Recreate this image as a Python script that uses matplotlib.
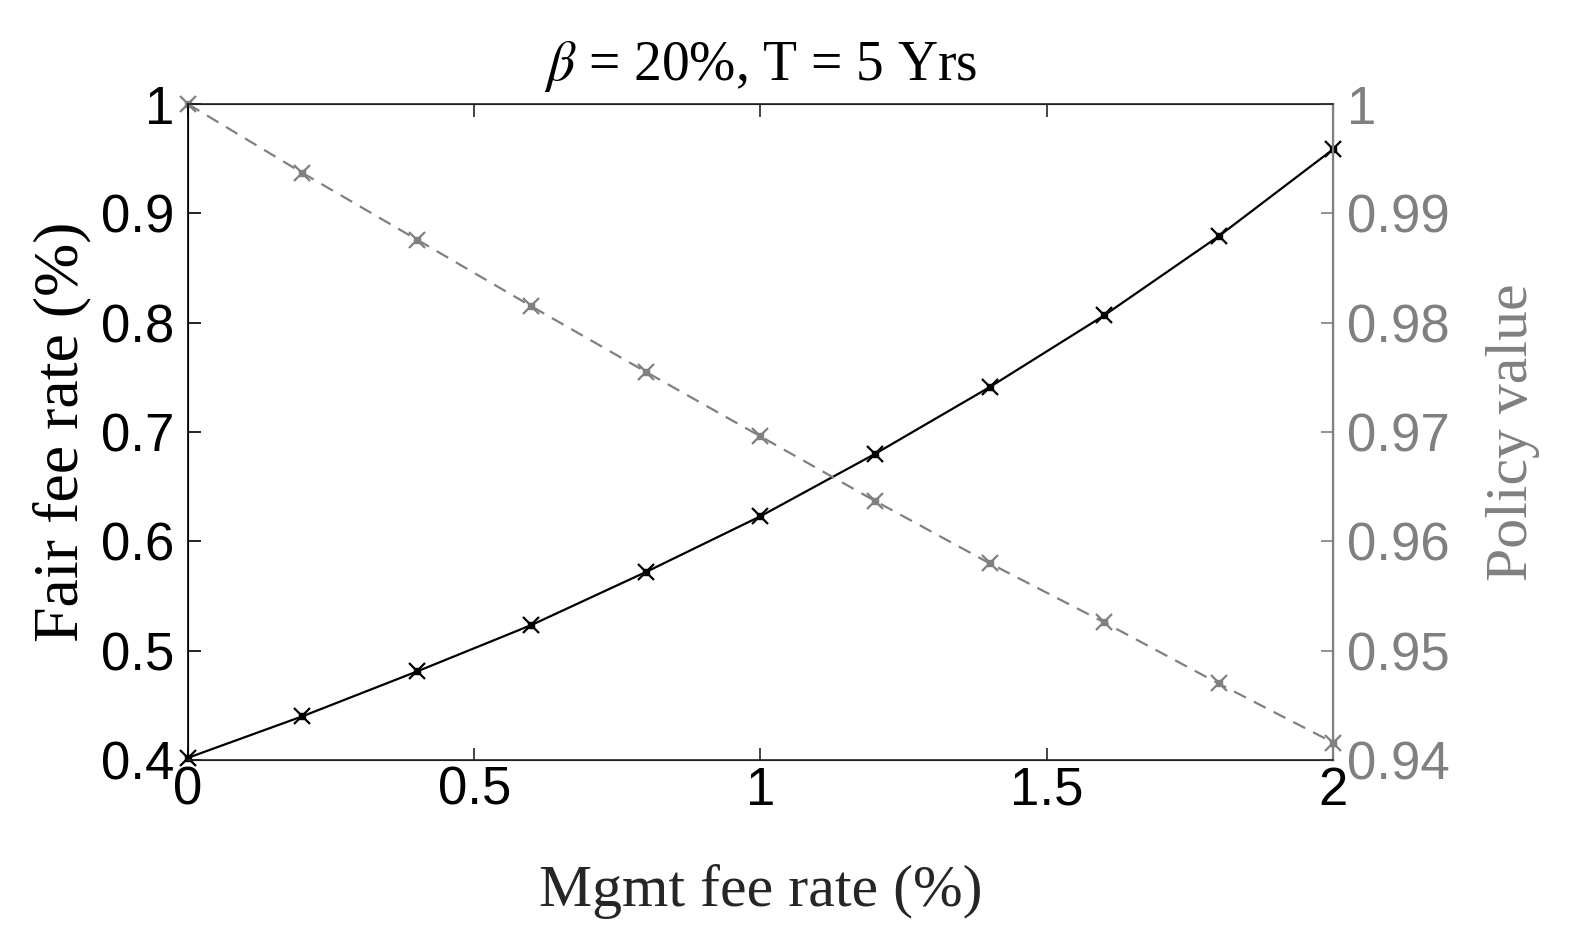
import matplotlib.pyplot as plt
import numpy as np

plt.rcParams['mathtext.fontset'] = 'stix'

# datos
mgmt_fee = [0.0, 0.2, 0.4, 0.6, 0.8, 1.0, 1.2, 1.4, 1.6, 1.8, 2.0]
fair_fee = [0.402, 0.440, 0.481, 0.5235, 0.572, 0.623, 0.680, 0.741, 0.8066, 0.879, 0.9586]
policy_value = [1.0, 0.9937, 0.9876, 0.9815, 0.9755, 0.9696, 0.9637, 0.9580, 0.9526, 0.9470, 0.9416]

xticks = [0, 0.5, 1, 1.5, 2]
yticks_left = [0.4, 0.5, 0.6, 0.7, 0.8, 0.9, 1.0]
yticks_right = [0.94, 0.95, 0.96, 0.97, 0.98, 0.99, 1.0]

gris = '#808080'
oscuro = '#262626'
serif = ['Liberation Serif', 'DejaVu Serif']
sans = ['Liberation Sans', 'DejaVu Sans']

fig = plt.figure(figsize=(15.94, 9.46), dpi=100)
ax = fig.add_axes([0.1179, 0.1966, 0.7184, 0.6934])
ax2 = ax.twinx()

# serie izquierda (negra)
ax.plot(mgmt_fee, fair_fee, '-', color='black', lw=1.6, zorder=3, clip_on=False)
ax.plot(mgmt_fee, fair_fee, 'x', color='black', ms=12, mew=1.6, zorder=4, clip_on=False)
ax.plot(mgmt_fee, fair_fee, 's', color='black', ms=4, zorder=4, clip_on=False)

# serie derecha (gris, discontinua)
ax2.plot(mgmt_fee, policy_value, '--', color=gris, lw=1.6, dashes=(6, 4))
ax2.plot(mgmt_fee, policy_value, 'x', color=gris, ms=12, mew=1.6, clip_on=False)
ax2.plot(mgmt_fee, policy_value, 's', color=gris, ms=4, clip_on=False)

ax.set_xlim(0, 2)
ax.set_ylim(0.4, 1.0)
ax2.set_ylim(0.94, 1.0)

ax.set_xticks(xticks)
ax.set_xticklabels(['0', '0.5', '1', '1.5', '2'])
ax.set_yticks(yticks_left)
ax.set_yticklabels(['0.4', '0.5', '0.6', '0.7', '0.8', '0.9', '1'])
ax2.set_yticks(yticks_right)
ax2.set_yticklabels(['0.94', '0.95', '0.96', '0.97', '0.98', '0.99', '1'])

ax.tick_params(axis='x', direction='in', length=9, width=1.2, top=True,
               labelsize=38, pad=4, colors=oscuro)
ax.tick_params(axis='x', labelcolor='black')
ax.tick_params(axis='y', direction='in', length=9, width=1.2,
               labelsize=38, pad=10, colors='black')
ax2.tick_params(axis='y', direction='in', length=9, width=1.2,
                labelsize=38, pad=10, colors=gris)
for lab in ax.get_xticklabels() + ax.get_yticklabels() + ax2.get_yticklabels():
    lab.set_family(sans)

for s in ['left', 'top', 'bottom']:
    ax2.spines[s].set_color(oscuro)
    ax2.spines[s].set_linewidth(1.2)
ax2.spines['left'].set_color('black')
ax2.spines['right'].set_color(gris)
ax2.spines['right'].set_linewidth(1.6)

ax.set_xlabel('Mgmt fee rate (%)', fontsize=43, family=serif, color=oscuro)
ax.set_ylabel('Fair fee rate (%)', fontsize=46, family=serif, color='black')
ax2.set_ylabel('Policy value', fontsize=43, family=serif, color=gris)
ax.xaxis.set_label_coords(0.5, -0.2)
ax.xaxis.label.set_va('center')
ax.yaxis.set_label_coords(-0.11, 0.5)
ax.yaxis.label.set_va('center')
ax2.yaxis.set_label_coords(1.157, 0.5)
ax2.yaxis.label.set_va('center')

ax.text(0.5, 1.058, r'$\beta$ = 20%, T = 5 Yrs', transform=ax.transAxes,
        ha='center', va='center', fontsize=40, family=serif, color='black')

fig.savefig('out.png', dpi=100)
